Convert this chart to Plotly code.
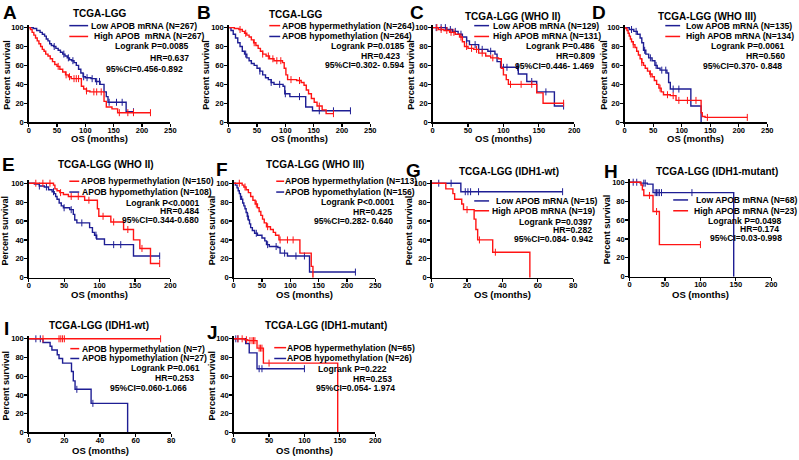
import plotly.graph_objects as go

W, H = 799, 460
RED = "#FF1414"
BLUE = "#1E1E94"
FONT = "Arial, Liberation Sans, sans-serif"

# ------------------------- data -------------------------
# A: TCGA-LGG, APOB mRNA
A_low_t = [0, 8, 14, 20, 24, 28, 31, 34, 37, 40, 44, 48, 52, 56, 60, 64, 68, 72, 76, 80, 84, 88, 92, 96, 100, 110, 118, 126, 133, 137, 140, 172, 185]
A_low_s = [100, 99, 97, 95, 93, 91, 88, 86, 83, 81, 80, 78, 76, 74, 72, 70, 68, 66, 65, 63, 60, 56, 52, 48, 47, 46, 43, 40, 32, 27, 21, 11, 11]
A_low_c = [45, 62, 70, 78, 97, 103, 112, 120, 125, 142, 155, 165, 185]
A_high_t = [0, 3, 6, 9, 12, 15, 18, 21, 24, 27, 30, 34, 38, 42, 46, 50, 55, 60, 65, 70, 75, 93, 97, 102, 108, 133, 137, 147, 157, 215]
A_high_s = [100, 98, 95, 92, 89, 86, 83, 80, 77, 75, 72, 70, 67, 64, 61, 59, 56, 53, 50, 48, 46, 38, 35, 33, 32, 22, 16, 14, 10, 10]
A_high_c = [52, 66, 72, 80, 84, 88, 102, 115, 120, 128, 160, 175, 185, 215]

# B: TCGA-LGG, APOB methylation
B_hyper_t = [0, 10, 18, 24, 28, 32, 36, 40, 44, 48, 52, 56, 60, 66, 72, 80, 95, 98, 101, 104, 120, 128, 133, 137, 141, 146, 151, 156, 165, 172, 185]
B_hyper_s = [100, 99, 98, 96, 94, 92, 90, 87, 84, 81, 78, 75, 72, 70, 67, 65, 63, 57, 50, 45, 44, 42, 39, 34, 30, 25, 21, 17, 13, 9, 9]
B_hyper_c = [20, 30, 45, 60, 70, 78, 85, 92, 110, 125, 160, 185]
B_hypo_t = [0, 4, 8, 12, 16, 20, 24, 28, 32, 36, 40, 45, 50, 55, 60, 65, 70, 75, 80, 96, 99, 108, 133, 136, 148, 215]
B_hypo_s = [100, 97, 93, 89, 84, 80, 75, 72, 68, 65, 62, 60, 57, 54, 50, 47, 45, 42, 40, 38, 30, 27, 27, 16, 12, 12]
B_hypo_c = [30, 55, 75, 90, 100, 125, 160, 185, 215]

# C: WHO II, APOB mRNA
C_low_t = [0, 20, 28, 36, 42, 48, 52, 65, 78, 88, 91, 96, 121, 133, 147, 172, 185]
C_low_s = [100, 98, 96, 93, 90, 86, 82, 77, 75, 72, 64, 58, 51, 43, 32, 17, 17]
C_low_c = [5, 12, 18, 25, 32, 40, 48, 60, 70, 82, 100, 105, 120, 140, 160, 185]
C_high_t = [0, 8, 16, 24, 32, 38, 42, 45, 50, 58, 65, 75, 82, 93, 97, 100, 104, 107, 147, 156, 185]
C_high_s = [100, 98, 97, 95, 93, 90, 85, 80, 78, 77, 73, 70, 68, 67, 57, 50, 45, 40, 31, 20, 20]
C_high_c = [6, 12, 20, 26, 30, 40, 48, 55, 62, 70, 85, 110, 125, 140, 185]

# D: WHO III, APOB mRNA
D_low_t = [0, 8, 16, 22, 27, 30, 33, 37, 42, 48, 53, 57, 62, 74, 77, 80, 116, 134]
D_low_s = [100, 98, 96, 93, 89, 84, 76, 72, 68, 65, 60, 57, 55, 52, 42, 35, 17, 0]
D_low_c = [12, 20, 35, 45, 55, 65, 72, 85, 95]
D_high_t = [0, 2, 4, 6, 8, 10, 12, 15, 18, 21, 24, 27, 30, 33, 36, 40, 44, 48, 52, 56, 60, 64, 68, 80, 90, 134, 136, 141, 215]
D_high_s = [100, 99, 97, 94, 91, 88, 85, 82, 79, 75, 71, 67, 63, 60, 57, 54, 51, 48, 44, 40, 36, 32, 29, 28, 23, 10, 6, 5, 5]
D_high_c = [15, 30, 45, 62, 75, 85, 95, 110, 125, 145, 215]

# E: WHO II, APOB methylation
E_hyper_t = [0, 35, 37, 40, 44, 49, 56, 79, 97, 99, 116, 134, 148, 157, 172, 185]
E_hyper_s = [100, 98, 94, 92, 90, 88, 86, 82, 73, 65, 59, 51, 40, 31, 15, 15]
E_hyper_c = [10, 20, 30, 45, 60, 70, 85, 105, 120, 140, 160, 185]
E_hypo_t = [0, 8, 15, 22, 28, 33, 36, 38, 40, 43, 46, 49, 58, 63, 65, 68, 86, 90, 93, 96, 107, 148, 185]
E_hypo_s = [100, 99, 97, 96, 93, 91, 89, 86, 83, 79, 76, 74, 72, 67, 61, 58, 53, 48, 45, 41, 35, 23, 23]
E_hypo_c = [15, 25, 35, 50, 60, 75, 95, 120, 130, 185]

# F: WHO III, APOB methylation
F_hyper_t = [0, 15, 18, 22, 26, 30, 34, 38, 42, 45, 48, 51, 54, 58, 65, 70, 74, 80, 117, 137, 140]
F_hyper_s = [100, 98, 96, 93, 90, 86, 82, 78, 74, 70, 66, 62, 58, 54, 51, 48, 45, 40, 26, 12, 0]
F_hyper_c = [10, 20, 40, 60, 82, 95, 105]
F_hypo_t = [0, 3, 6, 8, 10, 12, 14, 16, 18, 20, 22, 24, 26, 28, 30, 33, 37, 42, 50, 55, 58, 63, 78, 82, 95, 134, 215]
F_hypo_s = [100, 98, 95, 92, 89, 86, 83, 79, 76, 73, 69, 65, 61, 57, 53, 50, 47, 45, 42, 39, 35, 33, 32, 26, 23, 6, 6]
F_hypo_c = [12, 25, 40, 60, 75, 90, 110, 125, 215]

# G: IDH1-wt, APOB mRNA
G_low_t = [0, 16.5, 74]
G_low_s = [100, 91, 91]
G_low_c = [4, 11, 19, 20.5, 22, 26.5, 74]
G_high_t = [0, 8, 12, 13, 17, 18, 24, 25, 26, 34.5, 55.5]
G_high_s = [100, 94, 89, 83, 78, 72, 62, 51, 40, 27, 0]
G_high_c = [20, 27, 36]

# H: IDH1-mutant, APOB mRNA
H_low_t = [0, 15, 25, 33, 147]
H_low_s = [100, 99, 98, 89, 0]
H_low_c = [5, 10, 20, 22, 36, 38, 40, 42, 45, 88]
H_high_t = [0, 16, 18, 20, 33, 42, 100]
H_high_s = [100, 97, 92, 86, 69, 34, 34]
H_high_c = [28, 38, 100]

# I: IDH1-wt, APOB methylation
I_hyper_t = [0, 74]
I_hyper_s = [100, 100]
I_hyper_c = [8, 17, 18, 19, 20, 74]
I_hypo_t = [0, 8, 12, 13, 16, 17, 19, 24, 25, 26, 35, 55.5]
I_hypo_s = [100, 96, 92, 88, 83, 79, 74, 65, 55, 46, 31, 0]
I_hypo_c = [4, 6.5, 27, 36]

# J: IDH1-mutant, APOB methylation
J_hyper_t = [0, 15, 20, 33, 42, 147]
J_hyper_s = [100, 99, 98, 90, 74, 0]
J_hyper_c = [6, 12, 18, 23, 26, 28, 30, 36, 38, 40, 50]
J_hypo_t = [0, 17, 22, 33, 100]
J_hypo_s = [100, 95, 85, 68, 68]
J_hypo_c = [3, 6, 36, 40, 100]

Y_TICKS = [0, 20, 40, 60, 80, 100]

# ------------------------- layout description -------------------------
# box = (x_left, x_right, y_of_100, y_of_0) in pixels
panels = [
    dict(letter="A", lpos=(8, 11), title="TCGA-LGG", tpos=(99, 12), xmax=250, xstep=50,
         box=(27, 170, 26, 122), ylab_x=5, xlab_y=139,
         curves=[(BLUE, A_low_t, A_low_s, A_low_c), (RED, A_high_t, A_high_s, A_high_c)],
         legend=[("Low APOB mRNA (N=267)", BLUE, 68, 87, 89, 24),
                 ("High APOB  mRNA (N=267)", RED, 68, 87, 92, 35)],
         stats=[("Logrank P=0.0085", 190, 45), ("HR=0.637", 190, 57), ("95%CI=0.456-0.892", 184, 68)]),
    dict(letter="B", lpos=(204, 11), title="TCGA-LGG", tpos=(297, 13), xmax=250, xstep=50,
         box=(229, 372, 26, 122), ylab_x=206, xlab_y=139,
         curves=[(BLUE, B_hypo_t, B_hypo_s, B_hypo_c), (RED, B_hyper_t, B_hyper_s, B_hyper_c)],
         legend=[("APOB hypermethylation (N=264)", RED, 270, 281, 282, 24),
                 ("APOB hypomethylation (N=264)", BLUE, 270, 281, 282, 35)],
         stats=[("Logrank P=0.0185", 408, 45), ("HR=0.423", 403, 55), ("95%CI=0.302- 0.594", 407, 64)]),
    dict(letter="C", lpos=(419, 11), title="TCGA-LGG (WHO II)", tpos=(516, 15), xmax=200, xstep=50,
         box=(435, 578, 26, 122), ylab_x=413, xlab_y=139,
         curves=[(BLUE, C_low_t, C_low_s, C_low_c), (RED, C_high_t, C_high_s, C_high_c)],
         legend=[("Low APOB mRNA (N=129)", BLUE, 477, 492, 495, 24),
                 ("High APOB mRNA (N=131)", RED, 477, 492, 495, 35)],
         stats=[("Logrank P=0.486", 600, 45), ("HR=0.809", 600, 55), ("95%CI=0.446- 1.469", 599, 65)]),
    dict(letter="D", lpos=(603, 11), title="TCGA-LGG (WHO III)", tpos=(712, 15), xmax=250, xstep=50,
         box=(629, 773, 26, 122), ylab_x=608, xlab_y=139,
         curves=[(BLUE, D_low_t, D_low_s, D_low_c), (RED, D_high_t, D_high_s, D_high_c)],
         legend=[("Low APOB mRNA (N=135)", BLUE, 670, 685, 690, 24),
                 ("High APOB mRNA (N=134)", RED, 670, 685, 690, 35)],
         stats=[("Logrank P=0.0061", 792, 45), ("HR=0.560", 792, 55), ("95%CI=0.370- 0.848", 789, 65)]),
    dict(letter="E", lpos=(7, 165), title="TCGA-LGG (WHO II)", tpos=(105, 165), xmax=200, xstep=50,
         box=(27, 170, 184, 280), ylab_x=4, xlab_y=297,
         curves=[(BLUE, E_hypo_t, E_hypo_s, E_hypo_c), (RED, E_hyper_t, E_hyper_s, E_hyper_c)],
         legend=[("APOB hypermethylation (N=150)", RED, 68, 78, 79, 182),
                 ("APOB hypomethylation (N=108)", BLUE, 68, 78, 80, 193)],
         stats=[("Logrank P<0.0001", 201, 204), ("HR=0.484", 200, 212), ("95%CI=0.344-0.680", 200, 221)]),
    dict(letter="F", lpos=(222, 170), title="TCGA-LGG (WHO III)", tpos=(316, 165), xmax=250, xstep=50,
         box=(234, 377, 184, 280), ylab_x=213, xlab_y=297,
         curves=[(BLUE, F_hypo_t, F_hypo_s, F_hypo_c), (RED, F_hyper_t, F_hyper_s, F_hyper_c)],
         legend=[("APOB hypermethylation (N=113)", RED, 277, 285, 285, 182),
                 ("APOB hypomethylation (N=156)", BLUE, 277, 285, 285, 193)],
         stats=[("Logrank P<0.0001", 398, 203), ("HR=0.425", 395, 213), ("95%CI=0.282- 0.640", 396, 222)]),
    dict(letter="G", lpos=(416, 171), title="TCGA-LGG (IDH1-wt)", tpos=(512, 172), xmax=80, xstep=20,
         box=(434, 577, 184, 280), ylab_x=412, xlab_y=297,
         curves=[(BLUE, G_low_t, G_low_s, G_low_c), (RED, G_high_t, G_high_s, G_high_c)],
         legend=[("Low APOB mRNA (N=15)", BLUE, 477, 492, 498, 202),
                 ("High APOB mRNA (N=19)", RED, 477, 492, 494, 212)],
         stats=[("Logrank P=0.0397", 598, 223), ("HR=0.282", 597, 232), ("95%CI=0.084- 0.942", 598, 241)]),
    dict(letter="H", lpos=(615, 172), title="TCGA-LGG (IDH1-mutant)", tpos=(722, 172), xmax=200, xstep=50,
         box=(634, 777, 183, 279), ylab_x=612, xlab_y=297,
         curves=[(BLUE, H_low_t, H_low_s, H_low_c), (RED, H_high_t, H_high_s, H_high_c)],
         legend=[("Low APOB mRNA (N=68)", BLUE, 678, 693, 700, 201),
                 ("High APOB mRNA (N=23)", RED, 678, 693, 698, 212)],
         stats=[("Logrank P=0.0498", 789, 222), ("HR=0.174", 786, 231), ("95%CI=0.03-0.998", 789, 240)]),
    dict(letter="I", lpos=(5, 332), title="TCGA-LGG (IDH1-wt)", tpos=(98, 328), xmax=80, xstep=20,
         box=(27, 171, 342, 437), ylab_x=4, xlab_y=455,
         curves=[(BLUE, I_hypo_t, I_hypo_s, I_hypo_c), (RED, I_hyper_t, I_hyper_s, I_hyper_c)],
         legend=[("APOB hypermethylation (N=7)", RED, 69, 78, 80, 352),
                 ("APOB hypomethylation (N=27)", BLUE, 69, 78, 80, 362)],
         stats=[("Logrank P=0.061", 201, 372), ("HR=0.253", 195, 382), ("95%CI=0.060-1.066", 188, 392)]),
    dict(letter="J", lpos=(213, 336), title="TCGA-LGG (IDH1-mutant)", tpos=(327, 328), xmax=200, xstep=50,
         box=(234, 377, 342, 437), ylab_x=212, xlab_y=455,
         curves=[(BLUE, J_hypo_t, J_hypo_s, J_hypo_c), (RED, J_hyper_t, J_hyper_s, J_hyper_c)],
         legend=[("APOB hypermethylation (N=65)", RED, 275, 287, 287, 351),
                 ("APOB hypomethylation (N=26)", BLUE, 275, 287, 287, 362)],
         stats=[("Logrank P=0.222", 390, 373), ("HR=0.253", 395, 383), ("95%CI=0.054- 1.974", 398, 392)]),
]

YTOP = 103  # small headroom so the 100% line is not clipped


def px(x):
    return x / W


def py(y):
    return 1 - y / H


def step_value(t, s, c):
    v = s[0]
    for ti, si in zip(t, s):
        if ti <= c:
            v = si
        else:
            break
    return v


def bfont(size, color="black"):
    return dict(family=FONT, size=size, color=color, weight="bold")


fig = go.Figure()
annotations = []
shapes = []

for i, p in enumerate(panels, start=1):
    xa = "x" if i == 1 else f"x{i}"
    ya = "y" if i == 1 else f"y{i}"
    x0, x1, y100, y0 = p["box"]
    ytop_px = y0 - (y0 - y100) * YTOP / 100.0

    for color, t, s, c in p["curves"]:
        fig.add_trace(go.Scatter(x=t, y=s, mode="lines", line=dict(color=color, width=1.4, shape="hv"),
                                 xaxis=xa, yaxis=ya, showlegend=False, hoverinfo="skip"))
        cy = [step_value(t, s, ci) for ci in c]
        fig.add_trace(go.Scatter(x=c, y=cy, mode="markers", cliponaxis=False,
                                 marker=dict(symbol="line-ns-open", size=5, color=color, line=dict(width=1, color=color)),
                                 xaxis=xa, yaxis=ya, showlegend=False, hoverinfo="skip"))

    xkey = "xaxis" if i == 1 else f"xaxis{i}"
    ykey = "yaxis" if i == 1 else f"yaxis{i}"
    axis_common = dict(showline=True, linecolor="black", linewidth=1.5, ticks="outside", ticklen=3,
                       tickwidth=1.2, tickcolor="black", showgrid=False, zeroline=False,
                       tickfont=bfont(7.5), fixedrange=True)
    fig.update_layout(**{
        xkey: dict(domain=[px(x0), px(x1)], range=[0, p["xmax"]], anchor=ya, ticklabelstandoff=-3,
                   tickvals=list(range(0, p["xmax"] + 1, p["xstep"])), **axis_common),
        ykey: dict(domain=[py(y0), py(ytop_px)], range=[0, YTOP], anchor=xa, ticklabelstandoff=-1,
                   tickvals=Y_TICKS, **axis_common),
    })

    # panel letter and title
    annotations.append(dict(text=p["letter"], x=px(p["lpos"][0]), y=py(p["lpos"][1]), xref="paper", yref="paper",
                            showarrow=False, xanchor="center", yanchor="middle", font=bfont(19)))
    annotations.append(dict(text=p["title"], x=px(p["tpos"][0]), y=py(p["tpos"][1]), xref="paper", yref="paper",
                            showarrow=False, xanchor="center", yanchor="middle", font=bfont(10)))
    # axis titles
    annotations.append(dict(text="Percent survival", x=px(p["ylab_x"]), y=py((y100 + y0) / 2), xref="paper",
                            yref="paper", showarrow=False, textangle=-90, xanchor="center", yanchor="middle",
                            font=bfont(9)))
    annotations.append(dict(text="OS (months)", x=px((x0 + x1) / 2), y=py(p["xlab_y"]), xref="paper",
                            yref="paper", showarrow=False, xanchor="center", yanchor="middle", font=bfont(9.5)))
    # legend entries
    for text, color, lx0, lx1, tx, ty in p["legend"]:
        shapes.append(dict(type="line", xref="paper", yref="paper", x0=px(lx0), x1=px(lx1), y0=py(ty), y1=py(ty),
                           line=dict(color=color, width=1.5)))
        annotations.append(dict(text=text, x=px(tx), y=py(ty), xref="paper", yref="paper", showarrow=False,
                                xanchor="left", yanchor="middle", font=bfont(8.6), borderpad=0))
    for text, tx, ty in p["stats"]:
        annotations.append(dict(text=text, x=px(tx), y=py(ty), xref="paper", yref="paper", showarrow=False,
                                xanchor="right", yanchor="middle", font=bfont(8.6), borderpad=0))

fig.update_layout(width=W, height=H, margin=dict(l=0, r=0, t=0, b=0), paper_bgcolor="white",
                  plot_bgcolor="white", showlegend=False, annotations=annotations, shapes=shapes)

fig.write_html("out.html", config={"displayModeBar": False, "staticPlot": True},
               post_script="document.body.style.margin='0px';document.body.style.overflow='hidden';")
